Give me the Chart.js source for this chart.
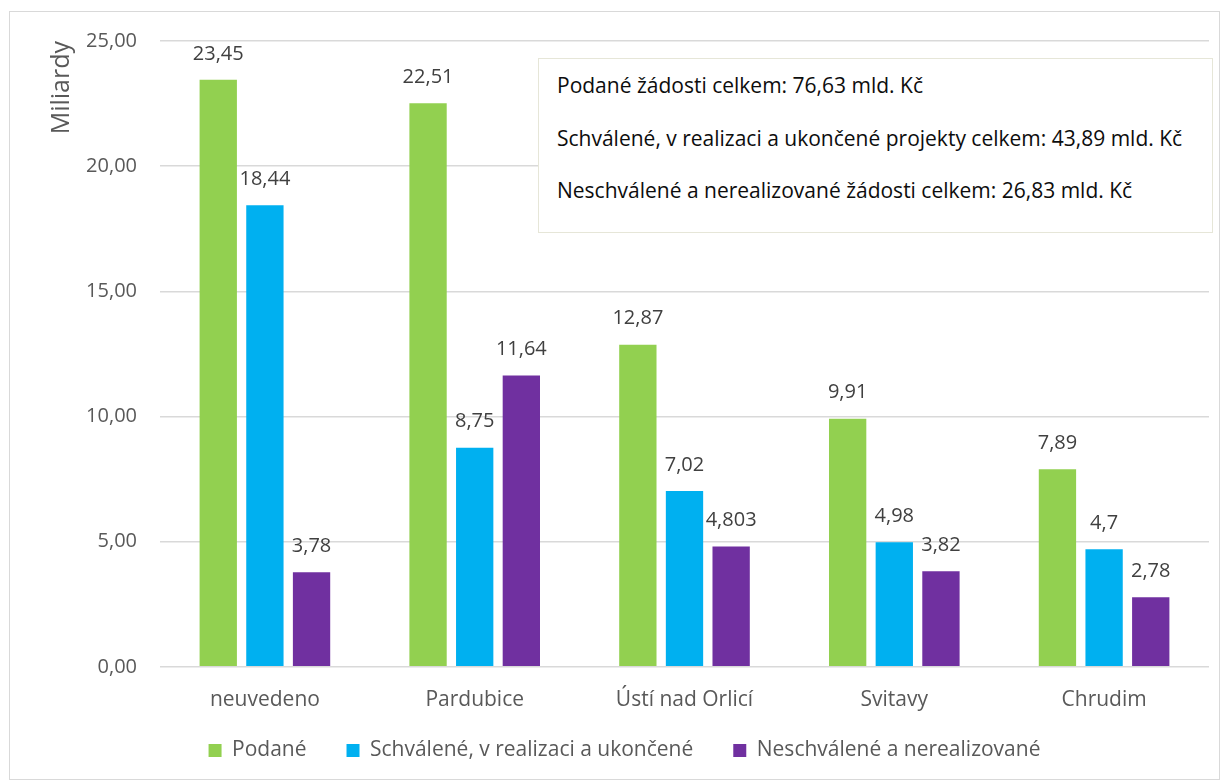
<!DOCTYPE html>
<html>
<head>
<meta charset="utf-8">
<script src="https://cdn.jsdelivr.net/npm/chart.js@4.4.1/dist/chart.umd.min.js"></script>
<style>
  html, body { margin: 0; padding: 0; background: #fff; }
  #wrap { position: absolute; left: 9px; top: 11px; width: 1211px; height: 769px; border: 1px solid #d9d9d9; box-sizing: border-box; }
  #chart { position: absolute; left: 0; top: -6px; }
  #note { position: absolute; left: 528px; top: 46px; width: 675px; height: 175px; border: 1px solid #e6e6d8; box-sizing: border-box; background: #fff;
          font-family: "Open Sans", sans-serif; font-size: 21px; color: #0d0d0d; }
  #note div { position: absolute; left: 18px; white-space: nowrap; line-height: 28px; }
</style>
</head>
<body>
<div id="wrap">
  <canvas id="chart" width="1209" height="773"></canvas>
  <div id="note">
    <div style="top:12px">Podané žádosti celkem: 76,63 mld. Kč</div>
    <div style="top:65px">Schválené, v realizaci a ukončené projekty celkem: 43,89 mld. Kč</div>
    <div style="top:117px">Neschválené a nerealizované žádosti celkem: 26,83 mld. Kč</div>
  </div>
</div>
<script>
const categories = ["neuvedeno", "Pardubice", "Ústí nad Orlicí", "Svitavy", "Chrudim"];
const podane = [23.45, 22.51, 12.87, 9.91, 7.89];
const schvalene = [18.44, 8.75, 7.02, 4.98, 4.7];
const neschvalene = [3.78, 11.64, 4.803, 3.82, 2.78];
const seriesNames = ["Podané", "Schválené, v realizaci a ukončené", "Neschválené a nerealizované"];
const yTicks = [0, 5, 10, 15, 20, 25];

const FONT = '"Open Sans", sans-serif';
const GREY = '#595959';

const labelPlugin = {
  id: 'barLabels',
  afterDatasetsDraw(chart) {
    const ctx = chart.ctx;
    ctx.save();
    ctx.font = '20px ' + FONT;
    ctx.fillStyle = '#404040';
    ctx.textAlign = 'center';
    ctx.textBaseline = 'middle';
    chart.data.datasets.forEach((ds, i) => {
      const meta = chart.getDatasetMeta(i);
      meta.data.forEach((bar, j) => {
        const txt = String(ds.data[j]).replace('.', ',');
        ctx.fillText(txt, bar.x, bar.y - 26);
      });
    });
    ctx.restore();
  }
};

const legendHeightPlugin = {
  id: 'legendHeight',
  beforeInit(chart) {
    const lg = chart.legend;
    if (!lg) return;
    const orig = lg.fit;
    lg.fit = function () { orig.call(this); this.height = 53; };
  },
  afterLayout(chart) {
    if (chart.legend) { chart.legend.top -= 26; }
  }
};

new Chart(document.getElementById('chart'), {
  type: 'bar',
  data: {
    labels: categories,
    datasets: [
      { label: seriesNames[0], data: podane, backgroundColor: '#92D050' },
      { label: seriesNames[1], data: schvalene, backgroundColor: '#00B0F0' },
      { label: seriesNames[2], data: neschvalene, backgroundColor: '#7030A0' }
    ]
  },
  options: {
    responsive: false,
    animation: false,
    layout: { padding: { left: 30, right: 10, top: 18, bottom: 0 } },
    datasets: { bar: { categoryPercentage: 0.667, barPercentage: 0.8 } },
    scales: {
      x: {
        grid: { display: false },
        border: { display: false },
        ticks: { color: GREY, font: { family: FONT, size: 21 }, padding: 13 }
      },
      y: {
        min: 0, max: 25,
        afterBuildTicks(axis) { axis.ticks = yTicks.map(v => ({ value: v })); },
        afterFit(axis) { axis.width = 120; },
        grid: { color: '#d9d9d9', lineWidth: 1.5, drawTicks: false },
        border: { display: false },
        ticks: { color: GREY, font: { family: FONT, size: 20 }, padding: 23,
                 callback: v => v.toFixed(2).replace('.', ',') },
        title: { display: true, text: 'Miliardy', align: 'end', color: GREY,
                 font: { family: FONT, size: 25 }, padding: { top: 7, bottom: 10 } }
      }
    },
    plugins: {
      legend: {
        position: 'bottom',
        labels: { color: GREY, font: { family: FONT, size: 21 }, boxWidth: 13, boxHeight: 13, padding: 40 }
      },
      tooltip: { enabled: false }
    }
  },
  plugins: [labelPlugin, legendHeightPlugin]
});
</script>
</body>
</html>
